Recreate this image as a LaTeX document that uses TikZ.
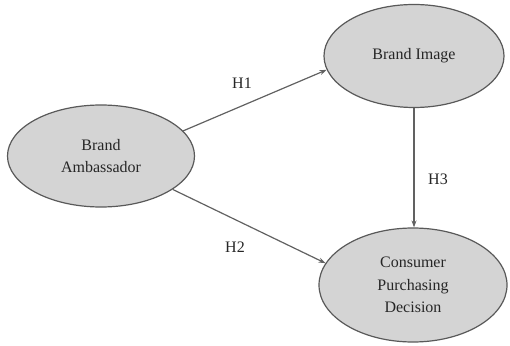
\documentclass[tikz,border=0pt]{standalone}
\usepackage{fontspec}
\setmainfont{Liberation Serif}
\usetikzlibrary{shapes.geometric,arrows.meta}
\begin{document}
\begin{tikzpicture}[x=1pt,y=1pt,
  construct/.style={ellipse,draw=black!65,line width=1.2pt,fill=black!17,
    align=center,font=\fontsize{16}{22.5}\selectfont,text=black!85,inner sep=0pt},
  link/.style={draw=black!62,line width=1.2pt,-{Stealth[length=7pt,width=5pt]}},
  hlabel/.style={font=\fontsize{16}{18}\selectfont,text=black!85}]
\useasboundingbox (0,0) rectangle (510,345);
\node[construct,minimum width=187pt,minimum height=102pt] (ba) at (101,189) {Brand\\Ambassador};
\node[construct,minimum width=180pt,minimum height=103pt] (bi) at (414,289) {Brand Image};
\node[construct,minimum width=188pt,minimum height=114pt] (cpd) at (413,60) {Consumer\\Purchasing\\Decision};
\draw[link] (ba.17) -- (bi.189);
\draw[link] (ba.335) -- (cpd.166);
\draw[link] (bi.south) -- (bi.south |- cpd.north);
\node[hlabel] (h1) at (242,262) {H1};
\node[hlabel] (h2) at (235,98) {H2};
\node[hlabel] (h3) at (438,166) {H3};
\end{tikzpicture}
\end{document}
